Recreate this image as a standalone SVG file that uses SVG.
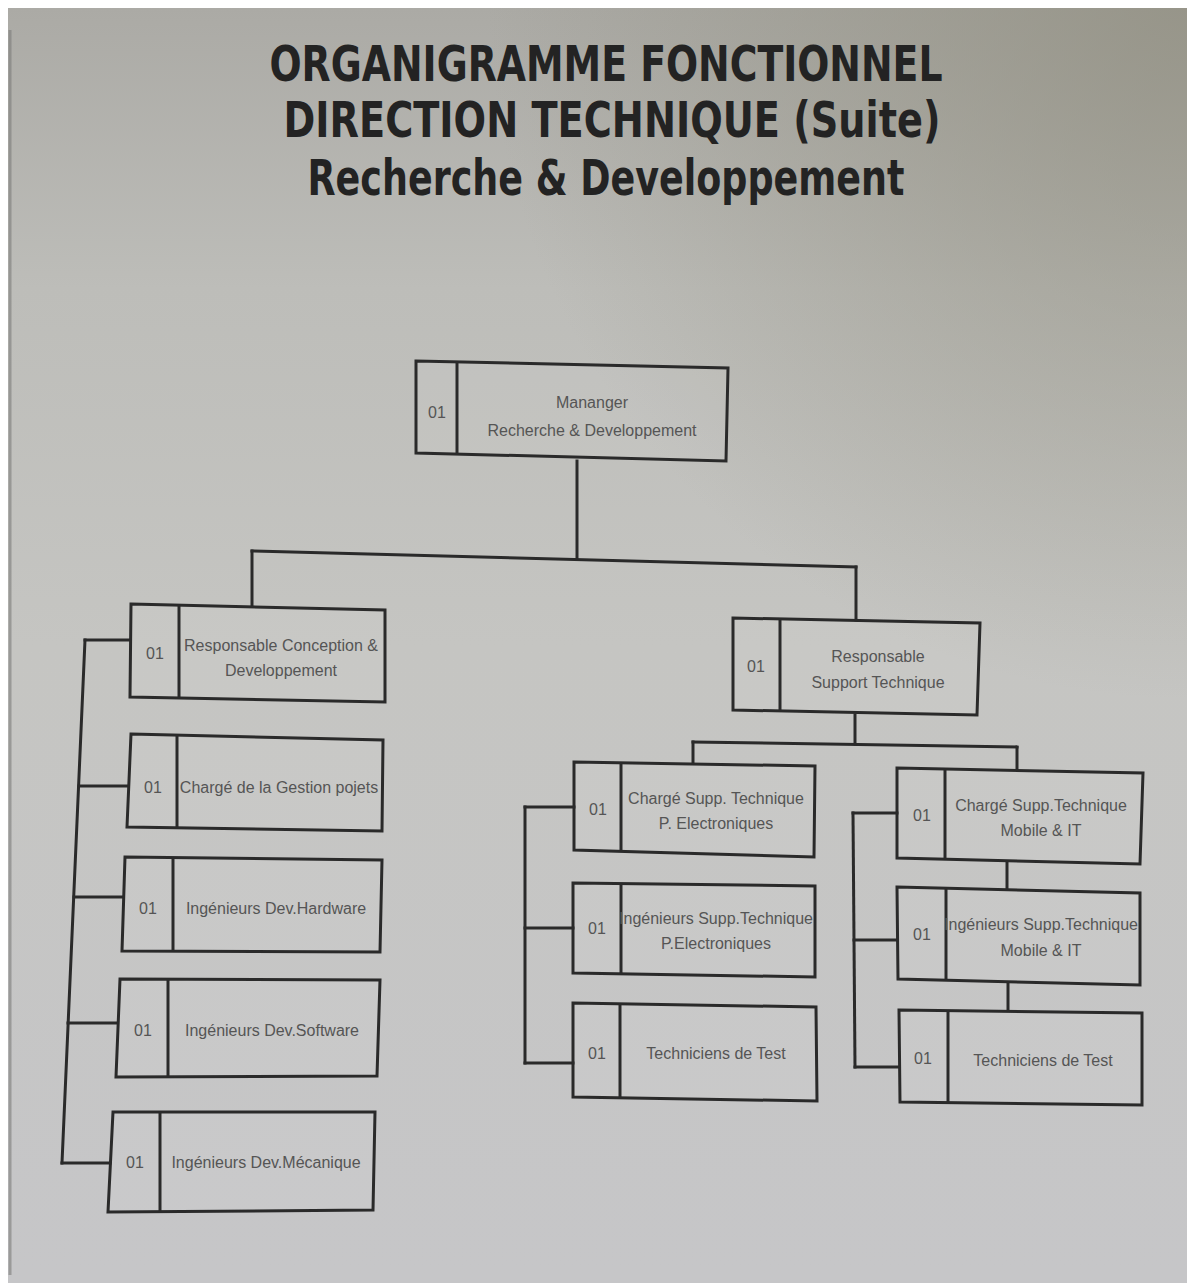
<svg xmlns="http://www.w3.org/2000/svg" width="1187" height="1283" viewBox="0 0 1187 1283">
  <defs>
    <linearGradient id="paper" x1="0" y1="0" x2="0" y2="1">
      <stop offset="0" stop-color="#abaaa5"/>
      <stop offset="0.22" stop-color="#bdbdb9"/>
      <stop offset="0.5" stop-color="#c5c5c2"/>
      <stop offset="1" stop-color="#c6c6c8"/>
    </linearGradient>
    <radialGradient id="tint" cx="1187" cy="0" r="700" gradientUnits="userSpaceOnUse">
      <stop offset="0" stop-color="#908e80" stop-opacity="0.75"/>
      <stop offset="1" stop-color="#908e80" stop-opacity="0"/>
    </radialGradient>
    <style>
      .title { font-family: "DejaVu Sans", "Liberation Sans", sans-serif; font-weight: bold; fill: #232323; text-anchor: middle; }
      .box { fill: #ffffff; fill-opacity: 0.06; stroke: #2a2a2a; stroke-width: 3; stroke-linejoin: miter; }
      .div { stroke: #2a2a2a; stroke-width: 3; fill: none; }
      .lbl { font-family: "Liberation Sans", Arial, sans-serif; font-size: 16px; fill: #555555; text-anchor: middle; }
      .num { font-family: "Liberation Sans", Arial, sans-serif; font-size: 16px; fill: #555555; text-anchor: middle; }
      .link { stroke: #2a2a2a; stroke-width: 3; fill: none; stroke-linecap: square; }
    </style>
  </defs>

  <!-- sheet of paper on a white margin -->
  <rect x="0" y="0" width="1187" height="1283" fill="#ffffff"/>
  <rect x="8" y="8" width="1179" height="1275" fill="url(#paper)"/>
  <rect x="8" y="8" width="1179" height="1275" fill="url(#tint)"/>
  <line x1="10" y1="30" x2="10" y2="1275" stroke="#7d7d7b" stroke-width="3" opacity="0.6"/>

  <!-- heading -->
  <g id="title">
    <text class="title" x="606" y="81" font-size="50" textLength="673" lengthAdjust="spacingAndGlyphs">ORGANIGRAMME FONCTIONNEL</text>
    <text class="title" x="612" y="137" font-size="50" textLength="657" lengthAdjust="spacingAndGlyphs">DIRECTION TECHNIQUE (Suite)</text>
    <text class="title" x="606" y="195" font-size="50" textLength="597" lengthAdjust="spacingAndGlyphs">Recherche &amp; Developpement</text>
  </g>

  <!-- connectors -->
  <g id="connectors">
    <path class="link" d="M577,461 L577,559"/>
    <path class="link" d="M252,551 L856,567"/>
    <path class="link" d="M252,551 L252,606"/>
    <path class="link" d="M856,567 L856,620"/>

    <path class="link" d="M85,640 L62,1163"/>
    <path class="link" d="M85,640 L130,640"/>
    <path class="link" d="M79,786 L128,786"/>
    <path class="link" d="M74,897 L123,897"/>
    <path class="link" d="M68,1023 L117,1023"/>
    <path class="link" d="M62,1163 L110,1163"/>

    <path class="link" d="M855,715 L855,744"/>
    <path class="link" d="M693,742 L1017,747"/>
    <path class="link" d="M693,742 L693,763"/>
    <path class="link" d="M1017,747 L1017,769"/>

    <path class="link" d="M525,807 L525,1063"/>
    <path class="link" d="M525,807 L574,807"/>
    <path class="link" d="M525,928 L573,928"/>
    <path class="link" d="M525,1063 L573,1063"/>

    <path class="link" d="M853,813 L855,1067"/>
    <path class="link" d="M853,813 L897,813"/>
    <path class="link" d="M854,940 L897,940"/>
    <path class="link" d="M855,1067 L899,1067"/>
    <path class="link" d="M1007,863 L1007,888"/>
    <path class="link" d="M1008,984 L1008,1010"/>
  </g>

  <!-- manager -->
  <g id="manager-rd">
    <path class="box" d="M416,361 L728,368 L726,461 L416,453 Z"/>
    <path class="div" d="M457,362 L457,454"/>
    <text class="num" x="437" y="418">01</text>
    <text class="lbl" x="592" y="408">Mananger</text>
    <text class="lbl" x="592" y="436">Recherche &amp; Developpement</text>
  </g>

  <!-- conception & developpement branch -->
  <g id="resp-conception">
    <path class="box" d="M131,604 L385,610 L385,702 L130,697 Z"/>
    <path class="div" d="M179,605 L179,698"/>
    <text class="num" x="155" y="659">01</text>
    <text class="lbl" x="281" y="651">Responsable Conception &amp;</text>
    <text class="lbl" x="281" y="676">Developpement</text>
  </g>
  <g id="charge-gestion-projets">
    <path class="box" d="M131,734 L383,740 L382,831 L127,827 Z"/>
    <path class="div" d="M177,735 L177,828"/>
    <text class="num" x="153" y="793">01</text>
    <text class="lbl" x="279" y="793">Chargé de la Gestion pojets</text>
  </g>
  <g id="ing-dev-hardware">
    <path class="box" d="M125,857 L382,860 L380,952 L122,951 Z"/>
    <path class="div" d="M173,858 L173,951"/>
    <text class="num" x="148" y="914">01</text>
    <text class="lbl" x="276" y="914">Ingénieurs Dev.Hardware</text>
  </g>
  <g id="ing-dev-software">
    <path class="box" d="M120,979 L380,980 L377,1076 L116,1077 Z"/>
    <path class="div" d="M168,979 L168,1077"/>
    <text class="num" x="143" y="1036">01</text>
    <text class="lbl" x="272" y="1036">Ingénieurs Dev.Software</text>
  </g>
  <g id="ing-dev-mecanique">
    <path class="box" d="M113,1112 L375,1112 L373,1210 L108,1212 Z"/>
    <path class="div" d="M160,1112 L160,1211"/>
    <text class="num" x="135" y="1168">01</text>
    <text class="lbl" x="266" y="1168">Ingénieurs Dev.Mécanique</text>
  </g>

  <!-- support technique branch -->
  <g id="resp-support">
    <path class="box" d="M733,618 L980,623 L977,715 L733,710 Z"/>
    <path class="div" d="M780,619 L780,711"/>
    <text class="num" x="756" y="672">01</text>
    <text class="lbl" x="878" y="662">Responsable</text>
    <text class="lbl" x="878" y="688">Support Technique</text>
  </g>
  <g id="charge-supp-electro">
    <path class="box" d="M574,762 L815,766 L814,857 L574,850 Z"/>
    <path class="div" d="M621,763 L621,851"/>
    <text class="num" x="598" y="815">01</text>
    <text class="lbl" x="716" y="804">Chargé Supp. Technique</text>
    <text class="lbl" x="716" y="829">P. Electroniques</text>
  </g>
  <g id="ing-supp-electro">
    <path class="box" d="M573,883 L815,886 L815,977 L573,973 Z"/>
    <path class="div" d="M621,883 L621,974"/>
    <text class="num" x="597" y="934">01</text>
    <text class="lbl" x="716" y="924">Ingénieurs Supp.Technique</text>
    <text class="lbl" x="716" y="949">P.Electroniques</text>
  </g>
  <g id="tech-test-electro">
    <path class="box" d="M573,1003 L816,1007 L817,1101 L573,1097 Z"/>
    <path class="div" d="M620,1004 L620,1098"/>
    <text class="num" x="597" y="1059">01</text>
    <text class="lbl" x="716" y="1059">Techniciens de Test</text>
  </g>
  <g id="charge-supp-mobile">
    <path class="box" d="M897,768 L1143,773 L1140,864 L897,858 Z"/>
    <path class="div" d="M945,769 L945,859"/>
    <text class="num" x="922" y="821">01</text>
    <text class="lbl" x="1041" y="811">Chargé Supp.Technique</text>
    <text class="lbl" x="1041" y="836">Mobile &amp; IT</text>
  </g>
  <g id="ing-supp-mobile">
    <path class="box" d="M897,887 L1140,893 L1140,985 L898,979 Z"/>
    <path class="div" d="M946,888 L946,980"/>
    <text class="num" x="922" y="940">01</text>
    <text class="lbl" x="1041" y="930">Ingénieurs Supp.Technique</text>
    <text class="lbl" x="1041" y="956">Mobile &amp; IT</text>
  </g>
  <g id="tech-test-mobile">
    <path class="box" d="M899,1010 L1142,1013 L1142,1105 L900,1102 Z"/>
    <path class="div" d="M948,1010 L948,1103"/>
    <text class="num" x="923" y="1064">01</text>
    <text class="lbl" x="1043" y="1066">Techniciens de Test</text>
  </g>
</svg>
